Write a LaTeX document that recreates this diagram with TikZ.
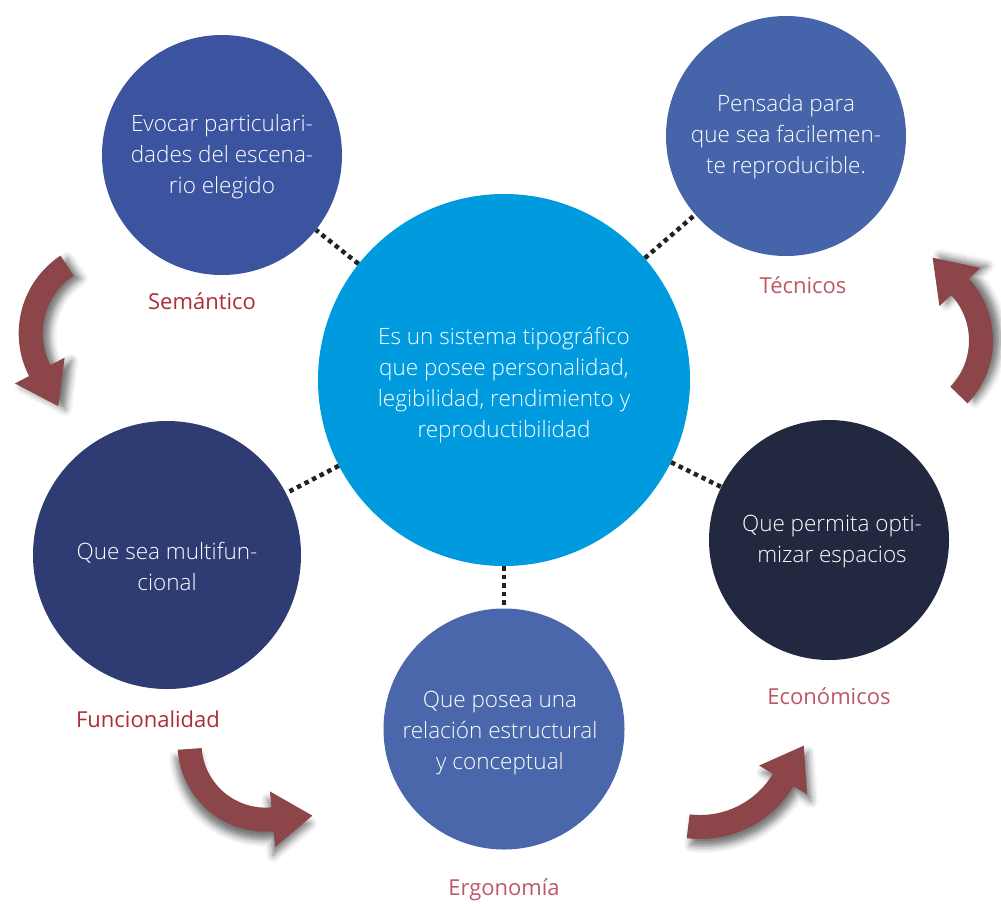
\documentclass[tikz,border=0pt]{standalone}
\usepackage{fontspec}
\setmainfont{Open Sans Light}
\newfontfamily\labfont{Open Sans}
\usetikzlibrary{calc,shadows.blur}
\definecolor{cmain}{RGB}{0,155,222}
\definecolor{ctl}{RGB}{60,84,160}
\definecolor{ctr}{RGB}{70,100,170}
\definecolor{cl}{RGB}{46,60,115}
\definecolor{cb}{RGB}{73,103,170}
\definecolor{cr}{RGB}{34,40,64}
\definecolor{arrowc}{RGB}{140,70,74}
\definecolor{labdark}{RGB}{172,45,52}
\definecolor{lablight}{RGB}{188,88,100}
\definecolor{dotc}{RGB}{34,34,34}
\tikzset{
  bubble/.style={circle, fill=#1, inner sep=0pt},
  bubbletext/.style={text=white, align=center, inner sep=0pt,
    font=\fontsize{22.5}{31}\selectfont},
  catlabel/.style={text=#1, inner sep=0pt, font=\labfont\fontsize{22}{25}\selectfont},
  dotline/.style={draw=dotc, line width=4.5pt, dash pattern=on 4.5pt off 4pt},
  arrowbody/.style={fill=arrowc, blur shadow={#1, shadow blur radius=7pt, shadow opacity=55}},
}
\newcommand\bentarrow[6]{%
  \fill[arrowbody={#6}] ($(#1,#2)+(#4:{#3+12})$) arc[start angle=#4, end angle=#5, radius={#3+12}]
    -- ($(#1,#2)+(#5:{#3+28})$)
    -- ($(#1,#2)+(#5:#3)+({40*sin(#5)},{-40*cos(#5)})$)
    -- ($(#1,#2)+(#5:{#3-28})$)
    -- ($(#1,#2)+(#5:{#3-12})$) arc[start angle=#5, end angle=#4, radius={#3-12}]
    -- cycle;
}
\begin{document}
\begin{tikzpicture}[x=1pt,y=-1pt]
\useasboundingbox (0,0) rectangle (1001,903);
% arrows
\bentarrow{111.7}{333.3}{81}{236.6}{152.6}{shadow xshift=7pt, shadow yshift=-3pt}
\bentarrow{902.5}{340.5}{78.5}{44}{-43}{shadow xshift=7pt, shadow yshift=2pt}
\bentarrow{265.5}{743.6}{76}{176}{84.7}{shadow xshift=-2pt, shadow yshift=-8pt}
\bentarrow{700}{730}{97}{97}{31}{shadow xshift=4pt, shadow yshift=-7pt}
% circles
\node[bubble=cmain, minimum size=372pt] (c) at (504,380) {};
\node[bubble=ctl, minimum size=240pt] (tl) at (222,155) {};
\node[bubble=ctr, minimum size=240pt] (tr) at (786,136) {};
\node[bubble=cl, minimum size=268pt] (l) at (167,555) {};
\node[bubble=cb, minimum size=241pt] (b) at (504,729) {};
\node[bubble=cr, minimum size=240pt] (r) at (829,540) {};
% texts
\node[bubbletext] (tc) at (504,385)
  {Es un sistema tipográfico\\que posee personalidad,\\legibilidad, rendimiento y\\reproductibilidad};
\node[bubbletext] (ttl) at (222,157)
  {Evocar particulari-\\dades del escena-\\rio elegido};
\node[bubbletext] (ttr) at (786,137)
  {Pensada para\\que sea facilemen-\\te reproducible.};
\node[bubbletext] (tlf) at (167,566)
  {Que sea multifun-\\cional};
\node[bubbletext] (tb) at (500,733)
  {Que posea una\\relación estructural\\y conceptual};
\node[bubbletext] (tr2) at (832,542)
  {Que permita opti-\\mizar espacios};
% connectors
\draw[dotline] (c) -- (tl);
\draw[dotline] (c) -- (tr);
\draw[dotline] (c) -- (l);
\draw[dotline] (c) -- (b);
\draw[dotline] (c) -- (r);
% labels
\node[catlabel=labdark] (lsem) at (202,301) {Semántico};
\node[catlabel=lablight] (ltec) at (803,285) {Técnicos};
\node[catlabel=labdark] (lfun) at (148,719) {Funcionalidad};
\node[catlabel=lablight] (leco) at (829,696) {Económicos};
\node[catlabel=lablight] (lerg) at (504,890) {Ergonomía};
\end{tikzpicture}
\end{document}
